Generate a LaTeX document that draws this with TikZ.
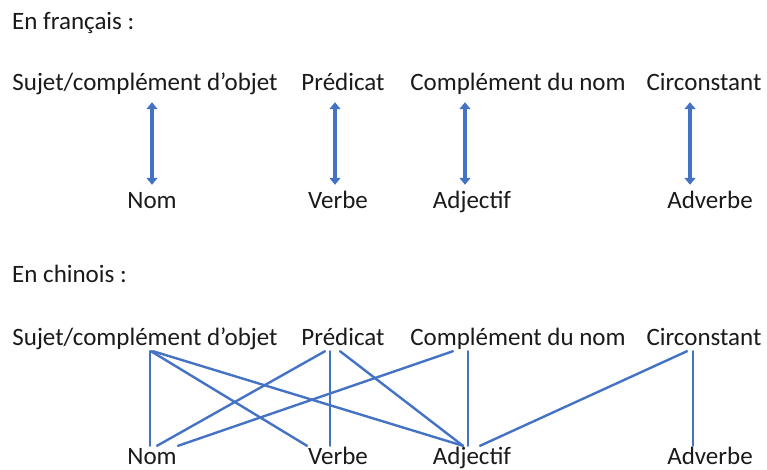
\documentclass[tikz,border=0pt]{standalone}
\usepackage{fontspec}
\setmainfont{Carlito}
\usetikzlibrary{arrows.meta}
\definecolor{lienbleu}{HTML}{4472C4}
\definecolor{texte}{HTML}{1A1A1A}
\tikzset{
    mot/.style={inner sep=0, text height=18pt, text depth=6pt, anchor=base, text=texte, font=\fontsize{25}{30}\selectfont},
    titre/.style={mot, anchor=base west},
    correspond/.style={lienbleu, line width=4.5pt, {Triangle[width=11pt,length=7pt]}-{Triangle[width=11pt,length=7pt]}, shorten <=6pt, shorten >=5pt},
    lien/.style={lienbleu, line width=2.4pt, line cap=round}
}
\begin{document}
\begin{tikzpicture}[x=1pt, y=-1pt]
    \useasboundingbox (0, 0) rectangle (767, 469);
    \begin{scope}
        \node[titre] (fr) at (12, 29) {En français :};
        \node[mot] (sujfr) at (145, 90) {Sujet/complément d'objet};
        \node[mot] (predfr) at (343, 90) {Prédicat};
        \node[mot] (cdnfr) at (518, 90) {Complément du nom};
        \node[mot] (circfr) at (704, 90) {Circonstant};
        \node[mot] (nomfr) at (152, 208) {Nom};
        \node[mot] (verbefr) at (338, 208) {Verbe};
        \node[mot] (adjfr) at (472, 208) {Adjectif};
        \node[mot] (advfr) at (710, 208) {Adverbe};
        \draw[correspond] ([xshift=7pt]sujfr.south) -- ([xshift=0pt]nomfr.north);
        \draw[correspond] ([xshift=-8pt]predfr.south) -- ([xshift=-3pt]verbefr.north);
        \draw[correspond] ([xshift=-53pt]cdnfr.south) -- ([xshift=-7pt]adjfr.north);
        \draw[correspond] ([xshift=-14pt]circfr.south) -- ([xshift=-20pt]advfr.north);
    \end{scope}

    \begin{scope}
        \node[titre] (cn) at (12, 282) {En chinois :};
        \node[mot] (sujcn) at (145, 345) {Sujet/complément d'objet};
        \node[mot] (predcn) at (343, 345) {Prédicat};
        \node[mot] (cdncn) at (518, 345) {Complément du nom};
        \node[mot] (circcn) at (704, 345) {Circonstant};
        \node[mot] (nomcn) at (152, 464) {Nom};
        \node[mot] (verbecn) at (338, 464) {Verbe};
        \node[mot] (adjcn) at (472, 464) {Adjectif};
        \node[mot] (advcn) at (710, 464) {Adverbe};
        \draw[lien] ([xshift=5pt]sujcn.south) -- ([xshift=-2pt]nomcn.north);
        \draw[lien] ([xshift=6pt]sujcn.south) -- ([xshift=-31pt]verbecn.north);
        \draw[lien] ([xshift=8pt]sujcn.south) -- ([xshift=-9pt]adjcn.north);
        \draw[lien] ([xshift=-18pt]predcn.south) -- ([xshift=5pt]nomcn.north);
        \draw[lien] ([xshift=-13pt]predcn.south) -- ([xshift=-8pt]verbecn.north);
        \draw[lien] ([xshift=-3pt]predcn.south) -- ([xshift=-9pt]adjcn.north);
        \draw[lien] ([xshift=-65pt]cdncn.south) -- ([xshift=26pt]nomcn.north);
        \draw[lien] ([xshift=-50pt]cdncn.south) -- ([xshift=-4pt]adjcn.north);
        \draw[lien] ([xshift=-17pt]circcn.south) -- ([xshift=8pt]adjcn.north);
        \draw[lien] ([xshift=-11pt]circcn.south) -- ([xshift=-17pt]advcn.north);
    \end{scope}
\end{tikzpicture}
\end{document}
